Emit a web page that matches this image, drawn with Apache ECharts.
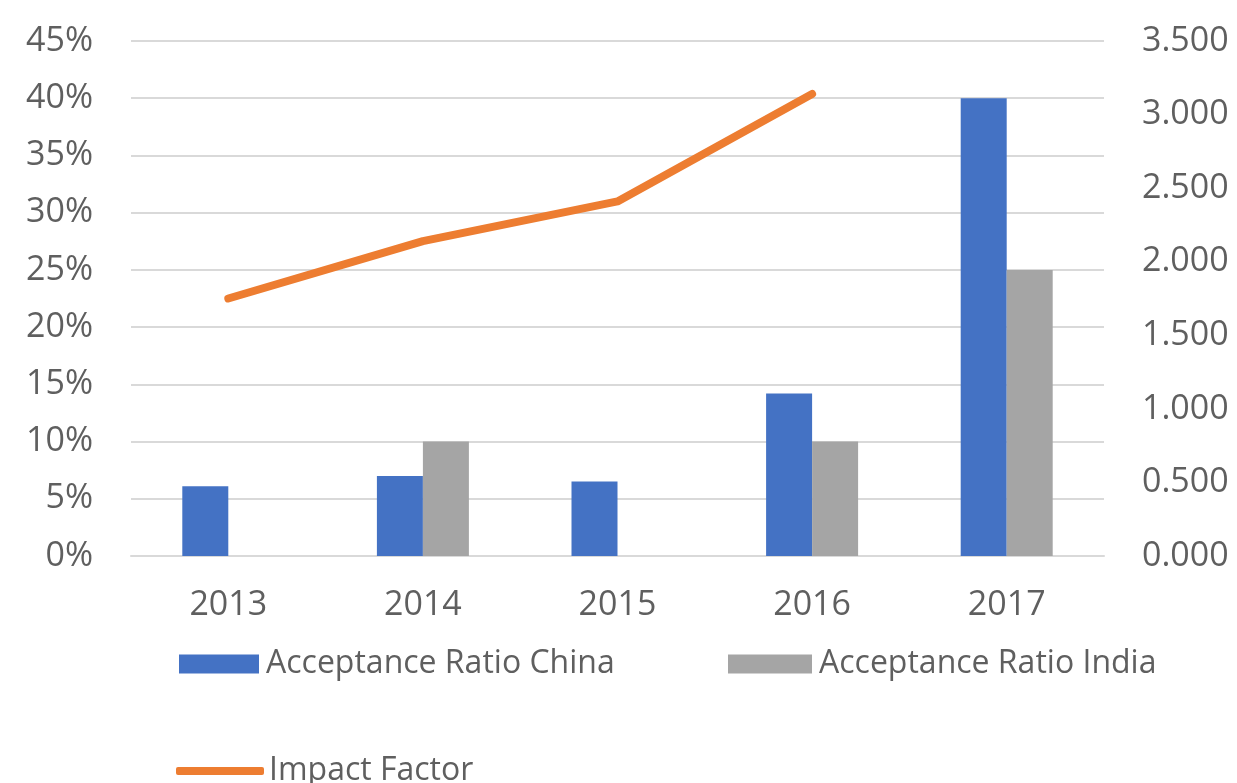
<!DOCTYPE html>
<html>
<head>
<meta charset="utf-8">
<script src="https://cdn.jsdelivr.net/npm/echarts@6/dist/echarts.min.js"></script>
<style>
html,body{margin:0;padding:0;background:#fff;}
#chart{width:1237px;height:783px;}
</style>
</head>
<body>
<div id="chart"></div>
<script>
const categories = ['2013', '2014', '2015', '2016', '2017'];
const chinaRatio = [6.1, 7.0, 6.5, 14.2, 40.0];
const indiaRatio = [null, 10.0, null, 10.0, 25.0];
const impactFactor = [1.75, 2.14, 2.41, 3.14, null];
const leftTicks = [0, 45, 5];
const rightTicks = [0, 3.5, 0.5];

const textColor = '#5f5f5f';
const fontFamily = '"Open Sans", "DejaVu Sans", sans-serif';
const chart = echarts.init(document.getElementById('chart'));
chart.setOption({
  backgroundColor: '#fff',
  animation: false,
  grid: { left: 131, right: 133, top: 41, bottom: 227, containLabel: false },
  legend: [
    { data: ['Acceptance Ratio China'], left: 174, top: 643, itemWidth: 80, itemHeight: 19, icon: 'rect',
      textStyle: { color: textColor, fontSize: 32, fontFamily: fontFamily, padding: [0, 0, 0, 2] } },
    { data: ['Acceptance Ratio India'], left: 723, top: 643, itemWidth: 84, itemHeight: 19, icon: 'rect',
      textStyle: { color: textColor, fontSize: 32, fontFamily: fontFamily, padding: [0, 0, 0, 2] } },
    { data: ['Impact Factor'], left: 171, top: 750, itemWidth: 88, itemHeight: 8, icon: 'roundRect',
      textStyle: { color: textColor, fontSize: 32, fontFamily: fontFamily, padding: [0, 0, 0, 0] } }
  ],
  xAxis: {
    type: 'category',
    data: categories,
    axisLine: { lineStyle: { color: '#d9d9d9', width: 2 } },
    axisTick: { show: false },
    axisLabel: { color: textColor, fontSize: 34, fontFamily: fontFamily, margin: 32 }
  },
  yAxis: [
    {
      type: 'value', min: leftTicks[0], max: leftTicks[1], interval: leftTicks[2],
      axisLine: { show: false }, axisTick: { show: false },
      axisLabel: { color: textColor, fontSize: 34, fontFamily: fontFamily, margin: 38, formatter: v => v + '%' },
      splitLine: { lineStyle: { color: '#d9d9d9', width: 2 } }
    },
    {
      type: 'value', min: rightTicks[0], max: rightTicks[1], interval: rightTicks[2],
      axisLine: { show: false }, axisTick: { show: false },
      axisLabel: { color: textColor, fontSize: 34, fontFamily: fontFamily, margin: 38, formatter: v => v.toFixed(3) },
      splitLine: { show: false }
    }
  ],
  series: [
    { name: 'Acceptance Ratio China', type: 'bar', data: chinaRatio, itemStyle: { color: '#4472C4' },
      barWidth: 46, barGap: '0%' },
    { name: 'Acceptance Ratio India', type: 'bar', data: indiaRatio, itemStyle: { color: '#A5A5A5' },
      barWidth: 46, barGap: '0%' },
    { name: 'Impact Factor', type: 'line', yAxisIndex: 1, data: impactFactor, showSymbol: false, symbol: 'none',
      lineStyle: { color: '#ED7D31', width: 8, cap: 'round', join: 'round' }, itemStyle: { color: '#ED7D31' } }
  ]
});
</script>
</body>
</html>
